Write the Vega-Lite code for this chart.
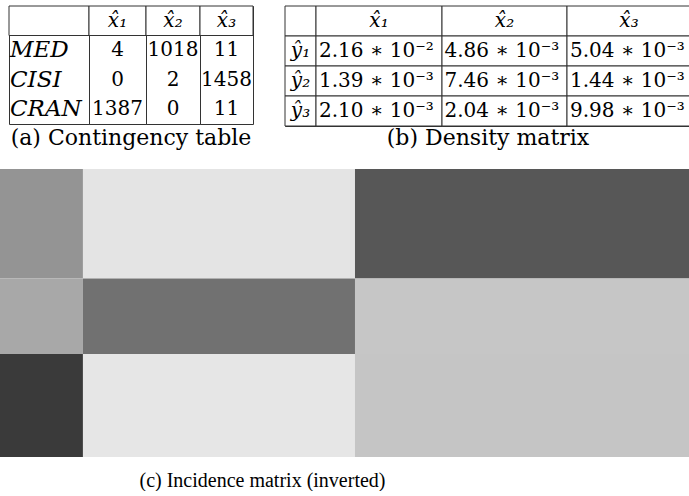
{
  "$schema": "https://vega.github.io/schema/vega-lite/v6.json",
  "padding": {"top": 5, "left": 0, "right": 0, "bottom": 0},
  "background": "white",
  "datasets": {
    "tableA": [
      {"r": 0, "col": "label", "t": ""}, {"r": 0, "col": "x1", "t": "x̂₁"}, {"r": 0, "col": "x2", "t": "x̂₂"}, {"r": 0, "col": "x3", "t": "x̂₃"},
      {"r": 1, "col": "label", "t": "MED"}, {"r": 1, "col": "x1", "t": "4"}, {"r": 1, "col": "x2", "t": "1018"}, {"r": 1, "col": "x3", "t": "11"},
      {"r": 2, "col": "label", "t": "CISI"}, {"r": 2, "col": "x1", "t": "0"}, {"r": 2, "col": "x2", "t": "2"}, {"r": 2, "col": "x3", "t": "1458"},
      {"r": 3, "col": "label", "t": "CRAN"}, {"r": 3, "col": "x1", "t": "1387"}, {"r": 3, "col": "x2", "t": "0"}, {"r": 3, "col": "x3", "t": "11"}
    ],
    "tableB": [
      {"r": 0, "col": "label", "t": ""}, {"r": 0, "col": "x1", "t": "x̂₁"}, {"r": 0, "col": "x2", "t": "x̂₂"}, {"r": 0, "col": "x3", "t": "x̂₃"},
      {"r": 1, "col": "label", "t": "ŷ₁"}, {"r": 1, "col": "x1", "t": "2.16 ∗ 10⁻²"}, {"r": 1, "col": "x2", "t": "4.86 ∗ 10⁻³"}, {"r": 1, "col": "x3", "t": "5.04 ∗ 10⁻³"},
      {"r": 2, "col": "label", "t": "ŷ₂"}, {"r": 2, "col": "x1", "t": "1.39 ∗ 10⁻³"}, {"r": 2, "col": "x2", "t": "7.46 ∗ 10⁻³"}, {"r": 2, "col": "x3", "t": "1.44 ∗ 10⁻³"},
      {"r": 3, "col": "label", "t": "ŷ₃"}, {"r": 3, "col": "x1", "t": "2.10 ∗ 10⁻³"}, {"r": 3, "col": "x2", "t": "2.04 ∗ 10⁻³"}, {"r": 3, "col": "x3", "t": "9.98 ∗ 10⁻³"}
    ],
    "incidence": [
      {"w0": 0, "w1": 518, "d0": 0, "d1": 1480, "v": 0.42},
      {"w0": 518, "w1": 2217, "d0": 0, "d1": 1480, "v": 0.106},
      {"w0": 2217, "w1": 4303, "d0": 0, "d1": 1480, "v": 0.659},
      {"w0": 0, "w1": 518, "d0": 1480, "d1": 2500, "v": 0.341},
      {"w0": 518, "w1": 2217, "d0": 1480, "d1": 2500, "v": 0.557},
      {"w0": 2217, "w1": 4303, "d0": 1480, "d1": 2500, "v": 0.224},
      {"w0": 0, "w1": 518, "d0": 2500, "d1": 3891, "v": 0.773},
      {"w0": 518, "w1": 2217, "d0": 2500, "d1": 3891, "v": 0.098},
      {"w0": 2217, "w1": 4303, "d0": 2500, "d1": 3891, "v": 0.227}
    ]
  },
  "vconcat": [
    {
      "hconcat": [
        {
          "hconcat": [
            {"width": 9, "height": 118, "view": {"stroke": null}, "data": {"values": [{}]}, "mark": {"type": "text", "text": ""}},
            {
              "width": 80, "height": 118,
              "data": {"name": "tableA"},
              "transform": [{"filter": "datum.col == 'label'"}],
              "encoding": {"y": {"field": "r", "type": "ordinal", "axis": null, "scale": {"domain": [0, 1, 2, 3], "paddingInner": 0, "paddingOuter": 0}}},
              "layer": [
                {"transform": [{"filter": "datum.r == 0"}], "mark": {"type": "rect", "fill": "white", "stroke": "#333", "strokeWidth": 1}},
                {"mark": {"type": "text", "font": "DejaVu Serif", "fontStyle": "italic", "fontSize": 23, "align": "left", "dx": -39, "color": "black"}, "encoding": {"text": {"field": "t"}}}
              ]
            },
            {
              "width": 57, "height": 118,
              "data": {"name": "tableA"},
              "transform": [{"filter": "datum.col == 'x1'"}],
              "encoding": {"y": {"field": "r", "type": "ordinal", "axis": null, "scale": {"domain": [0, 1, 2, 3], "paddingInner": 0, "paddingOuter": 0}}},
              "layer": [
                {"transform": [{"filter": "datum.r == 0"}], "mark": {"type": "rect", "fill": "white", "stroke": "#333", "strokeWidth": 1}},
                {"transform": [{"filter": "datum.r == 0"}], "mark": {"type": "text", "font": "DejaVu Serif", "fontStyle": "italic", "fontSize": 20, "color": "black"}, "encoding": {"text": {"field": "t"}}},
                {"transform": [{"filter": "datum.r > 0"}], "mark": {"type": "text", "font": "DejaVu Serif", "fontSize": 20, "color": "black"}, "encoding": {"text": {"field": "t"}}}
              ]
            },
            {
              "width": 54, "height": 118,
              "data": {"name": "tableA"},
              "transform": [{"filter": "datum.col == 'x2'"}],
              "encoding": {"y": {"field": "r", "type": "ordinal", "axis": null, "scale": {"domain": [0, 1, 2, 3], "paddingInner": 0, "paddingOuter": 0}}},
              "layer": [
                {"transform": [{"filter": "datum.r == 0"}], "mark": {"type": "rect", "fill": "white", "stroke": "#333", "strokeWidth": 1}},
                {"transform": [{"filter": "datum.r == 0"}], "mark": {"type": "text", "font": "DejaVu Serif", "fontStyle": "italic", "fontSize": 20, "color": "black"}, "encoding": {"text": {"field": "t"}}},
                {"transform": [{"filter": "datum.r > 0"}], "mark": {"type": "text", "font": "DejaVu Serif", "fontSize": 20, "color": "black"}, "encoding": {"text": {"field": "t"}}}
              ]
            },
            {
              "width": 53, "height": 118,
              "data": {"name": "tableA"},
              "transform": [{"filter": "datum.col == 'x3'"}],
              "encoding": {"y": {"field": "r", "type": "ordinal", "axis": null, "scale": {"domain": [0, 1, 2, 3], "paddingInner": 0, "paddingOuter": 0}}},
              "layer": [
                {"transform": [{"filter": "datum.r == 0"}], "mark": {"type": "rect", "fill": "white", "stroke": "#333", "strokeWidth": 1}},
                {"transform": [{"filter": "datum.r == 0"}], "mark": {"type": "text", "font": "DejaVu Serif", "fontStyle": "italic", "fontSize": 20, "color": "black"}, "encoding": {"text": {"field": "t"}}},
                {"transform": [{"filter": "datum.r > 0"}], "mark": {"type": "text", "font": "DejaVu Serif", "fontSize": 20, "color": "black"}, "encoding": {"text": {"field": "t"}}}
              ]
            }
          ],
          "spacing": 0,
          "bounds": "flush",
          "title": {"text": "(a) Contingency table", "orient": "bottom", "anchor": "middle", "dx": 4, "font": "DejaVu Serif", "fontSize": 22, "fontWeight": "normal", "color": "black", "offset": 3}
        },
        {
          "hconcat": [
            {
              "width": 31, "height": 120,
              "data": {"name": "tableB"},
              "transform": [{"filter": "datum.col == 'label'"}],
              "encoding": {"y": {"field": "r", "type": "ordinal", "axis": null, "scale": {"domain": [0, 1, 2, 3], "paddingInner": 0, "paddingOuter": 0}}},
              "layer": [
                {"mark": {"type": "rect", "fill": "white", "stroke": "#333", "strokeWidth": 1}},
                {"mark": {"type": "text", "font": "DejaVu Serif", "fontStyle": "italic", "fontSize": 20, "color": "black"}, "encoding": {"text": {"field": "t"}}}
              ]
            },
            {
              "width": 126, "height": 120,
              "data": {"name": "tableB"},
              "transform": [{"filter": "datum.col == 'x1'"}],
              "encoding": {"y": {"field": "r", "type": "ordinal", "axis": null, "scale": {"domain": [0, 1, 2, 3], "paddingInner": 0, "paddingOuter": 0}}},
              "layer": [
                {"mark": {"type": "rect", "fill": "white", "stroke": "#333", "strokeWidth": 1}},
                {"transform": [{"filter": "datum.r == 0"}], "mark": {"type": "text", "font": "DejaVu Serif", "fontStyle": "italic", "fontSize": 20, "color": "black"}, "encoding": {"text": {"field": "t"}}},
                {"transform": [{"filter": "datum.r > 0"}], "mark": {"type": "text", "font": "DejaVu Serif", "fontSize": 20, "align": "left", "dx": -60, "color": "black"}, "encoding": {"text": {"field": "t"}}}
              ]
            },
            {
              "width": 125, "height": 120,
              "data": {"name": "tableB"},
              "transform": [{"filter": "datum.col == 'x2'"}],
              "encoding": {"y": {"field": "r", "type": "ordinal", "axis": null, "scale": {"domain": [0, 1, 2, 3], "paddingInner": 0, "paddingOuter": 0}}},
              "layer": [
                {"mark": {"type": "rect", "fill": "white", "stroke": "#333", "strokeWidth": 1}},
                {"transform": [{"filter": "datum.r == 0"}], "mark": {"type": "text", "font": "DejaVu Serif", "fontStyle": "italic", "fontSize": 20, "color": "black"}, "encoding": {"text": {"field": "t"}}},
                {"transform": [{"filter": "datum.r > 0"}], "mark": {"type": "text", "font": "DejaVu Serif", "fontSize": 20, "align": "left", "dx": -60, "color": "black"}, "encoding": {"text": {"field": "t"}}}
              ]
            },
            {
              "width": 124, "height": 120,
              "data": {"name": "tableB"},
              "transform": [{"filter": "datum.col == 'x3'"}],
              "encoding": {"y": {"field": "r", "type": "ordinal", "axis": null, "scale": {"domain": [0, 1, 2, 3], "paddingInner": 0, "paddingOuter": 0}}},
              "layer": [
                {"mark": {"type": "rect", "fill": "white", "stroke": "#333", "strokeWidth": 1}},
                {"transform": [{"filter": "datum.r == 0"}], "mark": {"type": "text", "font": "DejaVu Serif", "fontStyle": "italic", "fontSize": 20, "color": "black"}, "encoding": {"text": {"field": "t"}}},
                {"transform": [{"filter": "datum.r > 0"}], "mark": {"type": "text", "font": "DejaVu Serif", "fontSize": 20, "align": "left", "dx": -59, "color": "black"}, "encoding": {"text": {"field": "t"}}}
              ]
            }
          ],
          "spacing": 0,
          "bounds": "flush",
          "title": {"text": "(b) Density matrix", "orient": "bottom", "anchor": "middle", "font": "DejaVu Serif", "fontSize": 22, "fontWeight": "normal", "color": "black", "offset": 1}
        }
      ],
      "spacing": 30
    },
    {
      "width": 689, "height": 288,
      "view": {"stroke": null},
      "data": {"name": "incidence"},
      "mark": {"type": "rect"},
      "encoding": {
        "x": {"field": "w0", "type": "quantitative", "scale": {"domain": [0, 4303], "nice": false, "zero": false}, "axis": null},
        "x2": {"field": "w1"},
        "y": {"field": "d0", "type": "quantitative", "scale": {"domain": [0, 3891], "nice": false, "reverse": true}, "axis": null},
        "y2": {"field": "d1"},
        "color": {"field": "v", "type": "quantitative", "scale": {"domain": [0, 1], "range": ["#ffffff", "#000000"], "interpolate": "rgb"}, "legend": null}
      },
      "title": {"text": "(c) Incidence matrix (inverted)", "orient": "bottom", "anchor": "middle", "dx": -82, "font": "Liberation Serif", "fontSize": 20, "fontWeight": "normal", "color": "black", "offset": 14}
    }
  ],
  "spacing": 20,
  "config": {"view": {"stroke": "#333", "strokeWidth": 1}}
}
